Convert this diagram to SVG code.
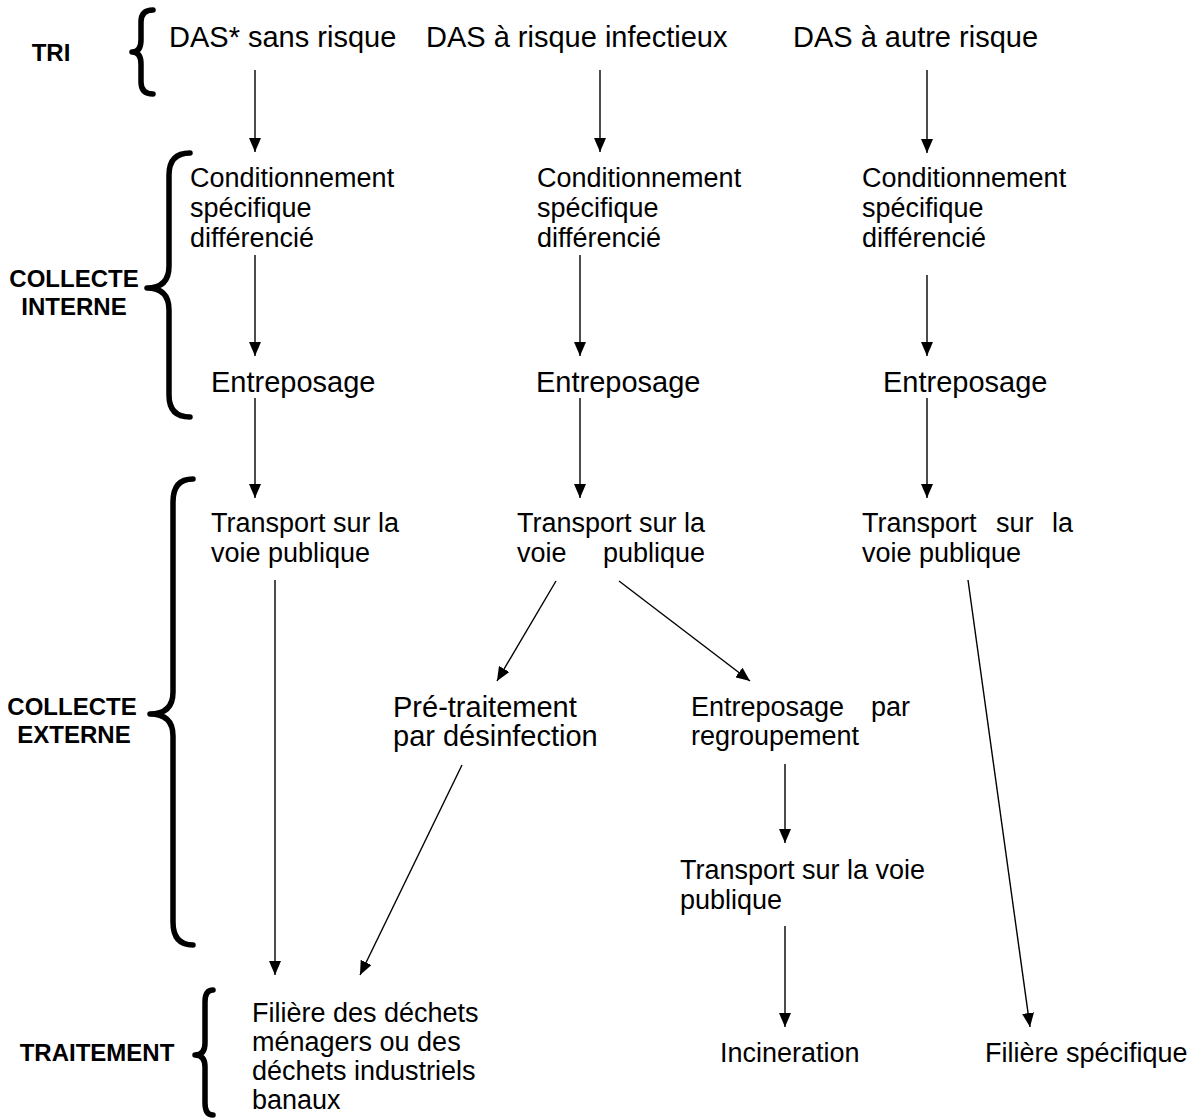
<svg xmlns="http://www.w3.org/2000/svg" width="1192" height="1119" viewBox="0 0 1192 1119">
<defs>
<style>
.t{font-family:"Liberation Sans",Arial,sans-serif;font-size:27px;fill:#000}
.big{font-size:29px}
.lbl{font-family:"Liberation Sans",Arial,sans-serif;font-size:24px;font-weight:bold;fill:#000;text-anchor:middle}
.br{fill:none;stroke:#000;stroke-width:5.5;stroke-linecap:round;stroke-linejoin:round}
.c line{stroke:#000;stroke-width:1.4;marker-end:url(#ah)}
</style>
<marker id="ah" markerUnits="userSpaceOnUse" markerWidth="14" markerHeight="12" refX="14" refY="6" orient="auto" viewBox="0 0 14 12">
<path d="M0,0 L14,6 L0,12 Z" fill="#000"/>
</marker>
</defs>
<rect width="1192" height="1119" fill="#fff"/>

<g id="stages">
<g id="stage-tri">
<text class="lbl" x="51" y="61">TRI</text>
<path class="br" d="M153,10 Q141,10 141,22 L141,40 Q141,52 132,52 Q141,52 141,64 L141,82 Q141,94 153,94"/>
</g>
<g id="stage-collecte-interne">
<text class="lbl" x="74" y="287">COLLECTE</text>
<text class="lbl" x="74" y="315">INTERNE</text>
<path class="br" d="M190,153 Q169,153 169,175 L169,266 Q169,288 147,288 Q169,288 169,310 L169,395 Q169,417 190,417"/>
</g>
<g id="stage-collecte-externe">
<text class="lbl" x="72" y="715">COLLECTE</text>
<text class="lbl" x="74" y="743">EXTERNE</text>
<path class="br" d="M193,479 Q173,479 173,502 L173,692 Q173,714 150,714 Q173,714 173,736 L173,922 Q173,945 193,945"/>
</g>
<g id="stage-traitement">
<text class="lbl" x="97" y="1061">TRAITEMENT</text>
<path class="br" d="M213,990 Q205,990 205,1002 L205,1043 Q205,1055 195,1055 Q205,1055 205,1067 L205,1103 Q205,1115 213,1115"/>
</g>
</g>

<g id="connectors" class="c">
<line x1="255" y1="70" x2="255" y2="152"/>
<line x1="600" y1="70" x2="600" y2="152"/>
<line x1="927" y1="70" x2="927" y2="153"/>
<line x1="255" y1="255" x2="255" y2="356"/>
<line x1="580" y1="255" x2="580" y2="356"/>
<line x1="927" y1="275" x2="927" y2="356"/>
<line x1="255" y1="398" x2="255" y2="498"/>
<line x1="580" y1="398" x2="580" y2="498"/>
<line x1="927" y1="398" x2="927" y2="498"/>
<line x1="275" y1="580" x2="275" y2="975"/>
<line x1="556" y1="581" x2="497" y2="681"/>
<line x1="619" y1="581" x2="750" y2="681"/>
<line x1="462" y1="765" x2="360" y2="975"/>
<line x1="785" y1="764" x2="785" y2="843"/>
<line x1="785" y1="926" x2="785" y2="1027"/>
<line x1="968" y1="580" x2="1030" y2="1027"/>
</g>

<g id="n-das-sans-risque"><text class="t" style="font-size:29px" x="169" y="47">DAS* sans risque</text></g>
<g id="n-das-infectieux"><text class="t" style="font-size:29px" x="426" y="47">DAS à risque infectieux</text></g>
<g id="n-das-autre"><text class="t" style="font-size:29px" x="793" y="47">DAS à autre risque</text></g>

<g id="n-cond-1"><text class="t" x="190" y="187">Conditionnement</text><text class="t" x="190" y="217">spécifique</text><text class="t" x="190" y="247">différencié</text></g>
<g id="n-cond-2"><text class="t" x="537" y="187">Conditionnement</text><text class="t" x="537" y="217">spécifique</text><text class="t" x="537" y="247">différencié</text></g>
<g id="n-cond-3"><text class="t" x="862" y="187">Conditionnement</text><text class="t" x="862" y="217">spécifique</text><text class="t" x="862" y="247">différencié</text></g>

<g id="n-entre-1"><text class="t big" x="211" y="392">Entreposage</text></g>
<g id="n-entre-2"><text class="t big" x="536" y="392">Entreposage</text></g>
<g id="n-entre-3"><text class="t big" x="883" y="392">Entreposage</text></g>

<g id="n-transport-1"><text class="t" x="211" y="532">Transport sur la</text><text class="t" x="211" y="562">voie publique</text></g>
<g id="n-transport-2"><text class="t" x="517" y="532">Transport sur la</text><text class="t" x="517" y="562">voie</text><text class="t" x="705" y="562" text-anchor="end">publique</text></g>
<g id="n-transport-3"><text class="t" x="862" y="532">Transport</text><text class="t" x="996" y="532">sur</text><text class="t" x="1073" y="532" text-anchor="end">la</text><text class="t" x="862" y="562">voie publique</text></g>

<g id="n-pretraitement"><text class="t big" x="393" y="717">Pré-traitement</text><text class="t big" x="393" y="746">par désinfection</text></g>
<g id="n-regroupement"><text class="t" x="691" y="716">Entreposage</text><text class="t" x="910" y="716" text-anchor="end">par</text><text class="t" x="691" y="745">regroupement</text></g>
<g id="n-transport-4"><text class="t" x="680" y="879">Transport sur la voie</text><text class="t" x="680" y="909">publique</text></g>

<g id="n-filiere-menagers"><text class="t" x="252" y="1022">Filière des déchets</text><text class="t" x="252" y="1051">ménagers ou des</text><text class="t" x="252" y="1080">déchets industriels</text><text class="t" x="252" y="1109">banaux</text></g>
<g id="n-incineration"><text class="t" x="720" y="1062">Incineration</text></g>
<g id="n-filiere-specifique"><text class="t" x="985" y="1062">Filière spécifique</text></g>
</svg>
